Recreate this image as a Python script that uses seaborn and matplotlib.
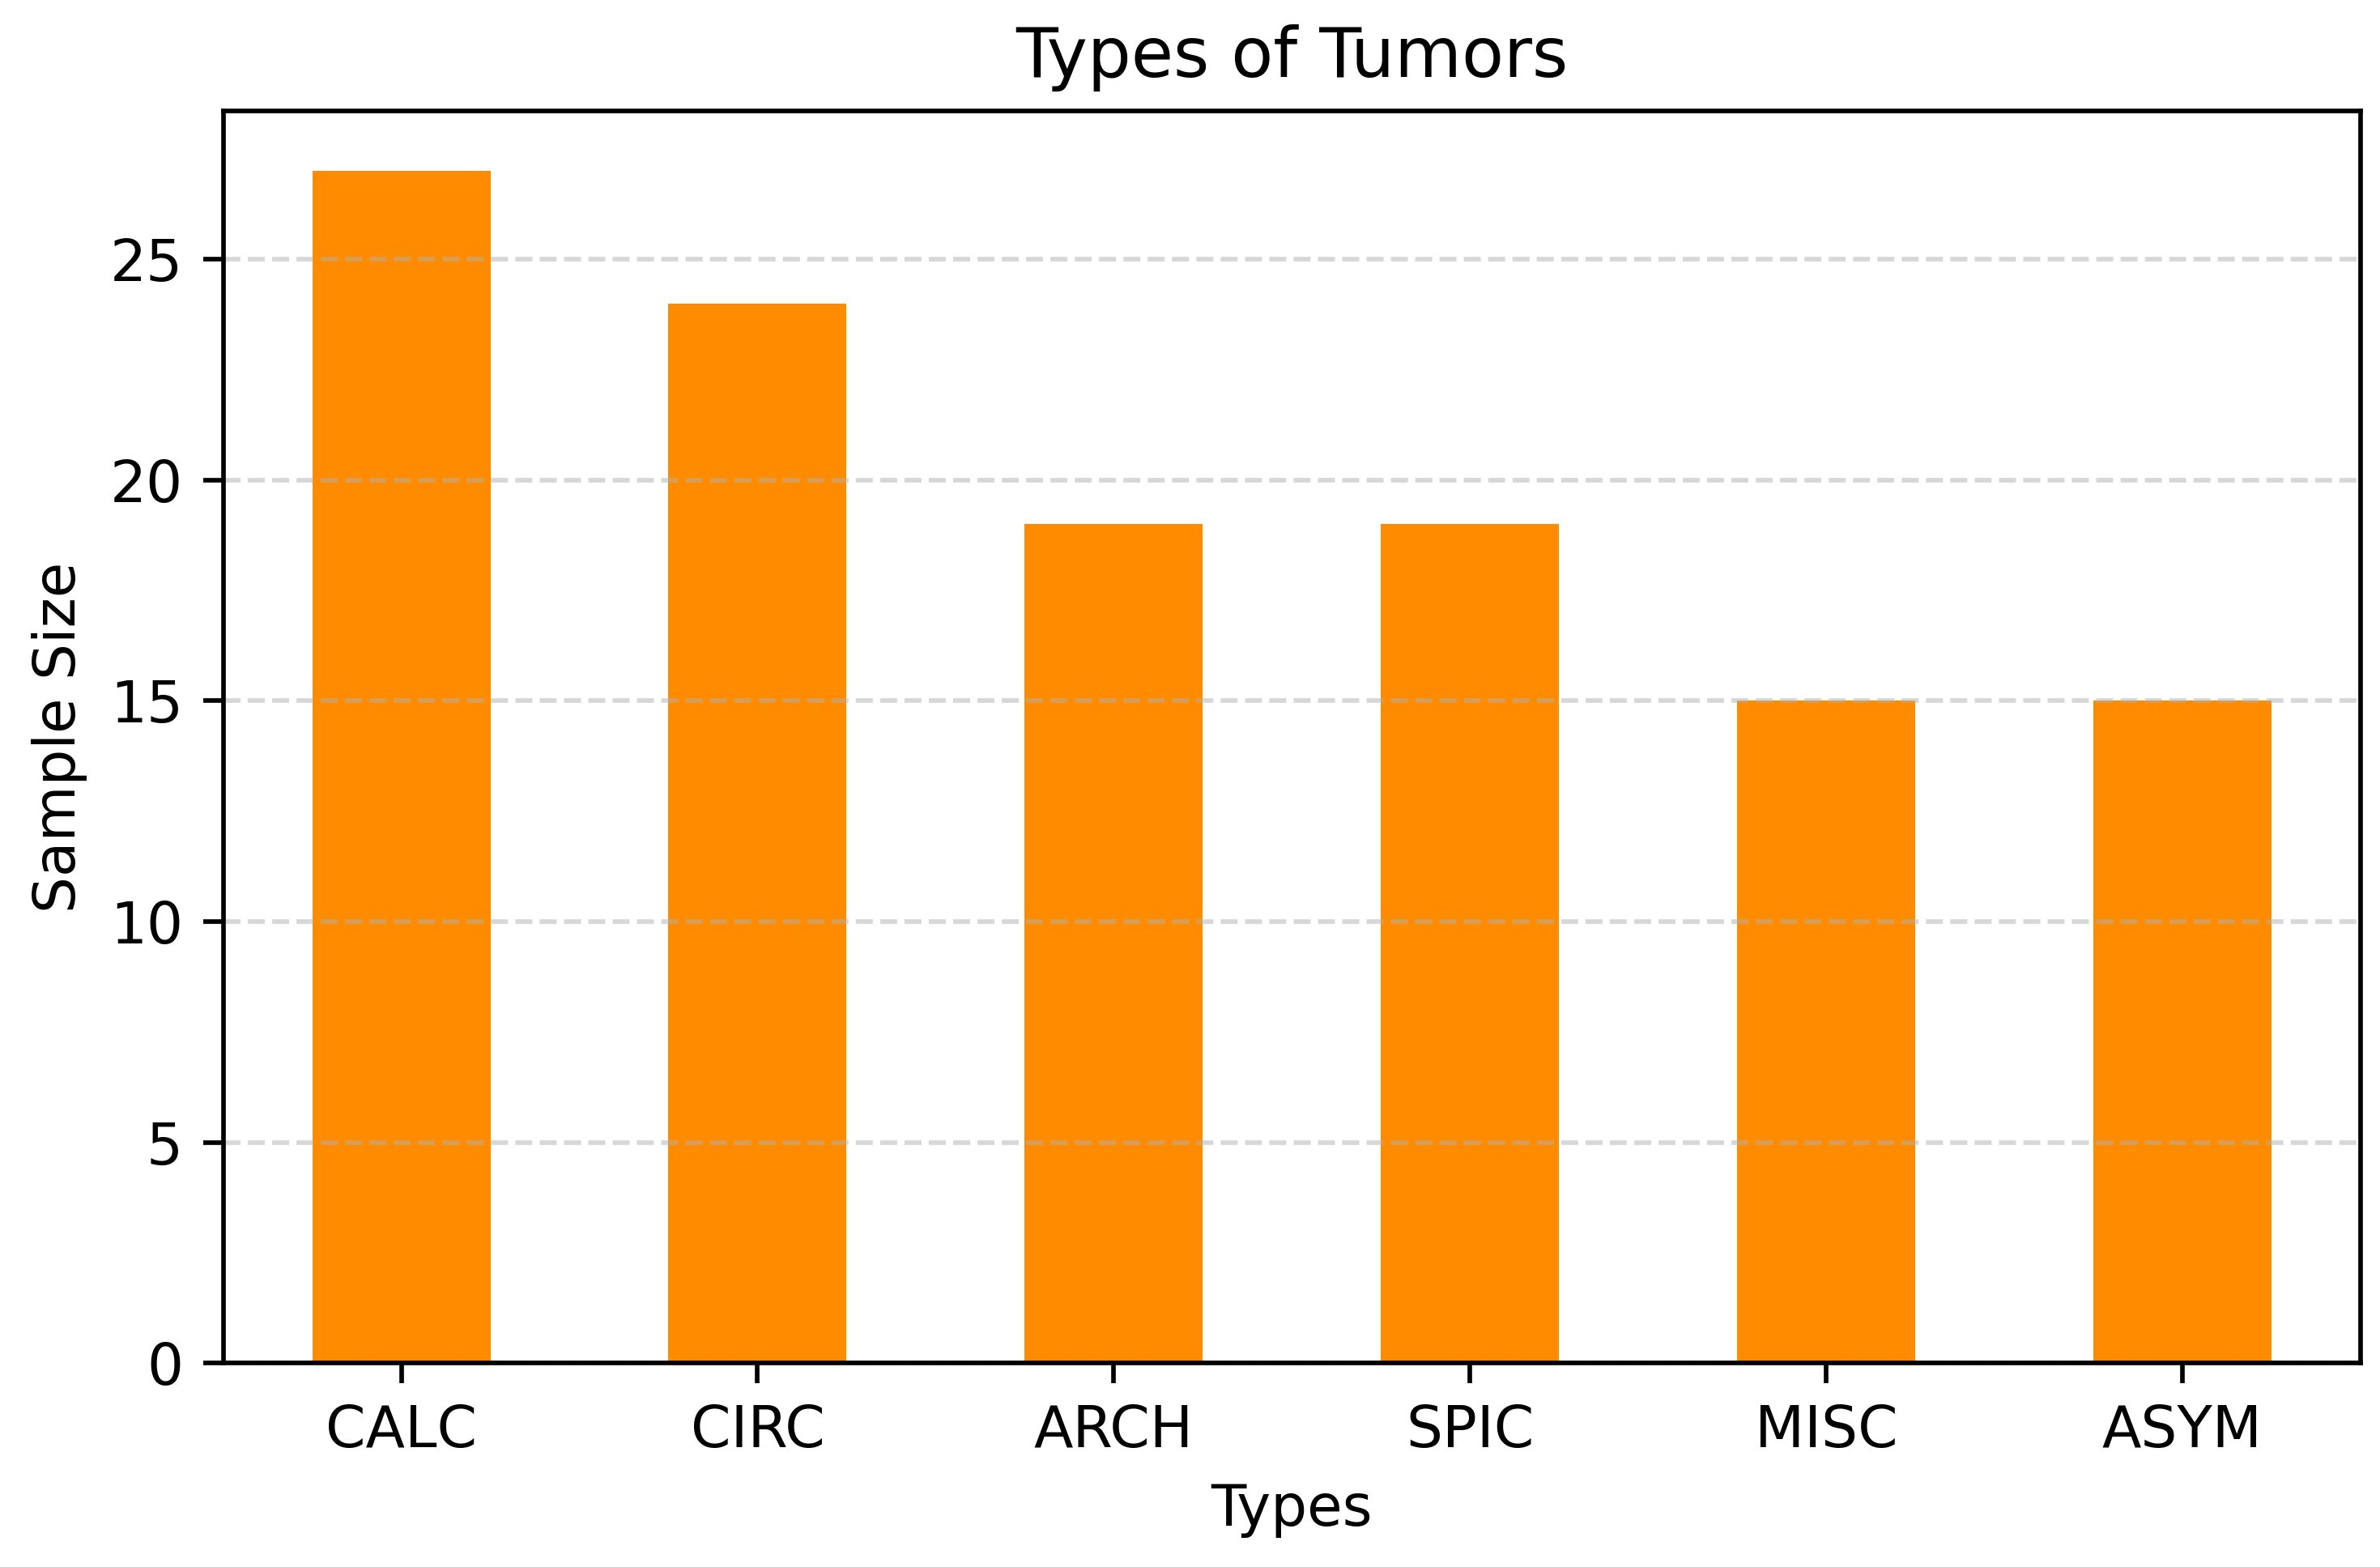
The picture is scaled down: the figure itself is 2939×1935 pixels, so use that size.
import pandas as pd
import matplotlib
matplotlib.use('Agg')
import matplotlib.pyplot as plt
import seaborn as sns

# Дані
types = ['CALC', 'CIRC', 'ARCH', 'SPIC', 'MISC', 'ASYM']
sample_size = [27, 24, 19, 19, 15, 15]

df = pd.DataFrame({'Types': types, 'Sample Size': sample_size})

fig, ax = plt.subplots(figsize=(2939 / 510, 1935 / 510), dpi=510)
plt.subplots_adjust(left=0.0938, right=0.9917, top=0.929, bottom=0.130)

sns.barplot(data=df, x='Types', y='Sample Size', color='darkorange',
            saturation=1, width=0.5, ax=ax)

ax.grid(axis='y', linestyle='--', alpha=0.5)
ax.set_title('Types of Tumors')
ax.set_xlabel('Types')
ax.set_ylabel('Sample Size')

plt.savefig('out.png', dpi=510)
plt.close()
